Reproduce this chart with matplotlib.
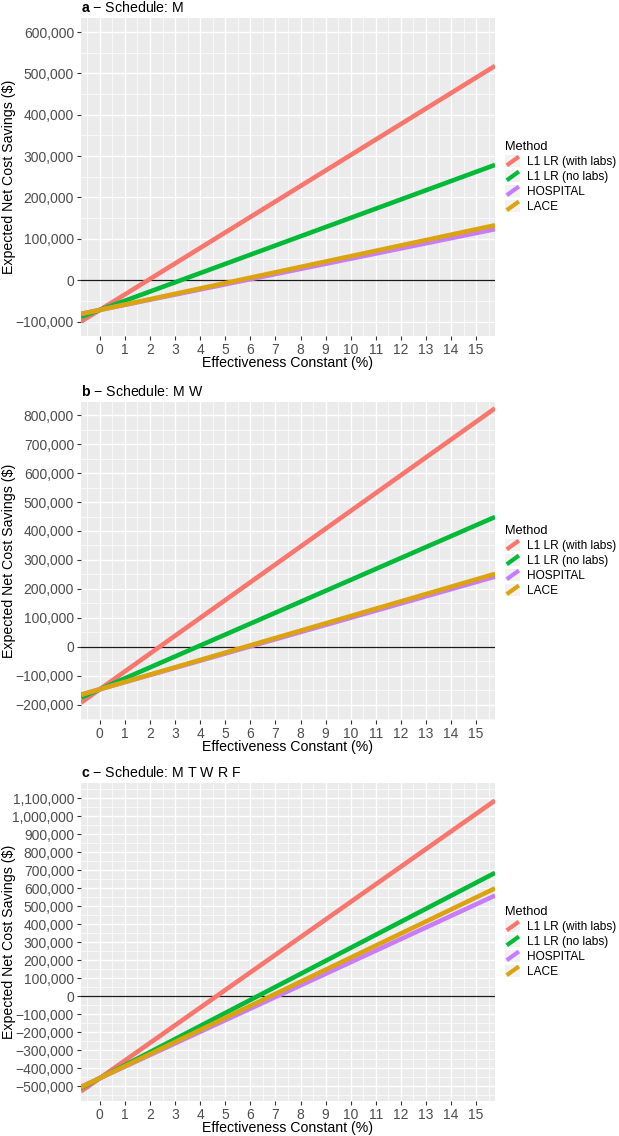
"""Expected net cost savings vs effectiveness constant, three schedules."""

import matplotlib

matplotlib.use("Agg")

import matplotlib.pyplot as plt
from matplotlib.legend_handler import HandlerBase
from matplotlib.lines import Line2D
from matplotlib.patches import Rectangle
from matplotlib.ticker import FuncFormatter, MultipleLocator

plt.rcParams["font.family"] = ["Liberation Sans", "DejaVu Sans"]
plt.rcParams["mathtext.fontset"] = "custom"
plt.rcParams["mathtext.rm"] = "Liberation Sans"
plt.rcParams["mathtext.bf"] = "Liberation Sans:bold"

# values read at effectiveness 0% and 15% (lines are extended like geom_abline)
methods = ["L1 LR (with labs)", "L1 LR (no labs)", "HOSPITAL", "LACE"]
colors = ["#F8766D", "#00BA38", "#C77CFF", "#DBA40E"]
x_read = [0, 15]

panel_letters = ["a", "b", "c"]
schedules = ["M", "M W", "M T W R F"]

sched_m = {
    "L1 LR (with labs)": [-72000, 490000],
    "L1 LR (no labs)": [-72000, 262000],
    "HOSPITAL": [-72000, 114000],
    "LACE": [-72000, 123000],
}
sched_mw = {
    "L1 LR (with labs)": [-146000, 777000],
    "L1 LR (no labs)": [-146000, 420000],
    "HOSPITAL": [-146000, 224000],
    "LACE": [-146000, 233000],
}
sched_mtwrf = {
    "L1 LR (with labs)": [-455000, 1015000],
    "L1 LR (no labs)": [-455000, 632000],
    "HOSPITAL": [-455000, 512000],
    "LACE": [-455000, 550000],
}
panel_data = [sched_m, sched_mw, sched_mtwrf]

y_limits = [(-135000, 634000), (-252000, 845000), (-582000, 1186000)]
x_ticks = list(range(0, 16))


class DiagonalKey(HandlerBase):
    """ggplot-style abline legend key: grey square with a diagonal stroke."""

    def create_artists(self, legend, orig_handle, xdescent, ydescent,
                       width, height, fontsize, trans):
        x0, y0 = -xdescent, -ydescent
        box = Rectangle((x0, y0), width, height, facecolor="#F2F2F2",
                        edgecolor="none", transform=trans)
        stroke = Line2D([x0 + 1, x0 + width - 1], [y0 + 1, y0 + height - 1],
                        color=orig_handle.get_color(),
                        linewidth=orig_handle.get_linewidth(),
                        solid_capstyle="butt", transform=trans)
        return [box, stroke]


def _money(value, _pos):
    return f"{value:,.0f}".replace("-", "\u2212")


fig = plt.figure(figsize=(6.19, 11.36), dpi=100)
left, width = 81 / 619, 414 / 619
panel_tops = [18, 402, 783]
panel_height = 318

for idx, data in enumerate(panel_data):
    top = panel_tops[idx]
    ax = fig.add_axes([left, 1 - (top + panel_height) / 1136, width, panel_height / 1136])
    ax.set_facecolor("#EBEBEB")
    for side in ax.spines.values():
        side.set_visible(False)

    ax.set_xlim(-0.75, 15.75)
    ax.set_ylim(*y_limits[idx])
    ax.set_xticks(x_ticks)
    ax.xaxis.set_minor_locator(MultipleLocator(0.5))
    ax.yaxis.set_major_locator(MultipleLocator(100000))
    ax.yaxis.set_minor_locator(MultipleLocator(50000))
    ax.yaxis.set_major_formatter(FuncFormatter(_money))
    ax.grid(which="major", color="white", linewidth=1.0)
    ax.grid(which="minor", color="white", linewidth=0.5)
    ax.set_axisbelow(True)
    ax.tick_params(which="major", length=3, width=0.8, color="#333333",
                   labelsize=10, labelcolor="#4D4D4D", pad=2)
    ax.tick_params(which="minor", length=0)

    ax.axhline(0, color="#1A1A1A", linewidth=0.9, zorder=2)

    handles = []
    for name, color in zip(methods, colors):
        v0, v1 = data[name]
        ax.axline((x_read[0], v0), (x_read[1], v1), color=color,
                  linewidth=3.3, solid_capstyle="butt", zorder=3)
        handles.append(Line2D([], [], color=color, linewidth=3.0))

    ax.set_xlabel("Effectiveness Constant (%)", fontsize=10.2, labelpad=-1)
    ax.set_ylabel("Expected Net Cost Savings (\\$)", fontsize=10.2)
    ax.yaxis.set_label_coords(-0.158, 0.5)
    title = "$\\mathbf{" + panel_letters[idx] + "}$ \u2212 Schedule: " + schedules[idx]
    ax.set_title(title, loc="left", fontsize=10.2, pad=4)

    ax.legend(handles, methods, title="Method", loc="center left",
              bbox_to_anchor=(1.025, 0.5), frameon=False, fontsize=8.6,
              title_fontsize=9.2, handler_map={Line2D: DiagonalKey()},
              handlelength=1.25, handleheight=1.1, handletextpad=0.6,
              labelspacing=0.18, borderpad=0, borderaxespad=0,
              alignment="left")

fig.savefig("out.png", dpi=100, facecolor="white")
plt.close(fig)
